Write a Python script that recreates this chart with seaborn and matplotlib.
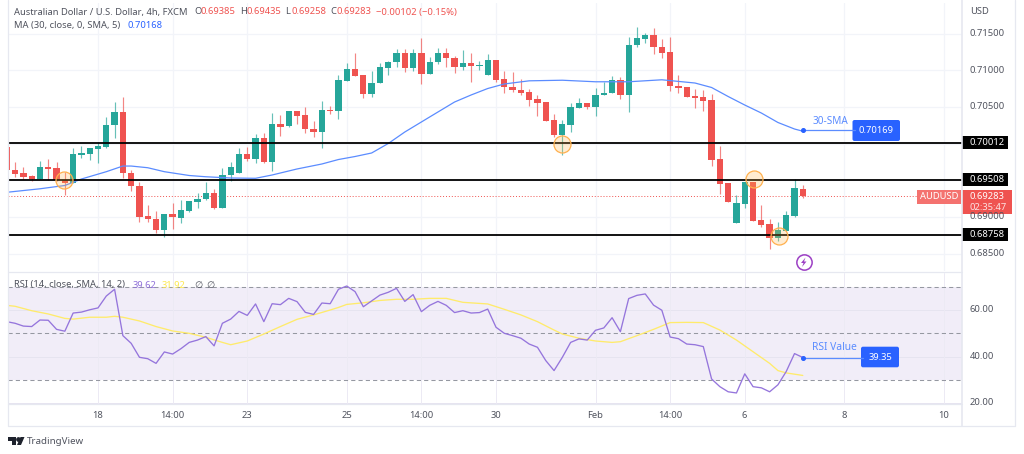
import matplotlib
matplotlib.use('Agg')
import matplotlib.pyplot as plt
from matplotlib.patches import Rectangle, FancyBboxPatch, Polygon
import seaborn as sns
import pandas as pd
import numpy as np

# AUD/USD 4h candles
opens = [.69952,.69639,.69598,.69557,.69520,.69676,.69666,.69502,.69466,.69843,.69861,.69929,.69957,.70252,.70430,.69598,.69421,.69012,.68975,.68825,
         .69039,.68988,.69084,.69207,.69243,.69321,.69121,.69571,.69602,.69857,.69789,.70075,.69752,.70266,.70239,.70447,.70385,.70194,.70157,.70461,
         .70447,.70857,.71016,.70930,.70675,.70829,.71034,.71107,.71238,.71034,.71238,.70944,.71107,.71238,.71170,.71043,.71098,.71057,.70934,.71135,
         .70876,.70775,.70734,.70702,.70603,.70562,.70321,.70116,.70252,.70488,.70548,.70502,.70662,.70685,.70866,.70657,.71343,.71425,.71480,.71320,
         .71244,.70784,.70767,.70648,.70634,.70593,.69785,.69458,.68916,.69175,.69479,.68957,.68903,.68707,.68811,.69016,.69385]
highs = [.69952,.69748,.69680,.69571,.69762,.69789,.69748,.69612,.69939,.69966,.69939,.70021,.70362,.70566,.70630,.69639,.69475,.69162,.69080,.69039,
         .69193,.69230,.69220,.69329,.69475,.69376,.69666,.69748,.69943,.69952,.70130,.70143,.70412,.70389,.70447,.70447,.70494,.70307,.70580,.70512,
         .70934,.71094,.71238,.70930,.70993,.71094,.71125,.71289,.71285,.71285,.71435,.71176,.71298,.71298,.71193,.71275,.71230,.71129,.71217,.71139,
         .70989,.70971,.70876,.70739,.70662,.70562,.70398,.70321,.70548,.70617,.70548,.70753,.70835,.70925,.70903,.71448,.71585,.71503,.71571,.71421,
         .71457,.70934,.70767,.70739,.70730,.70675,.69966,.69458,.69298,.69479,.69479,.69162,.68971,.68934,.69084,.69516,.69435]
lows = [.69639,.69543,.69516,.69489,.69516,.69502,.69489,.69298,.69462,.69802,.69775,.69734,.69943,.70079,.69534,.69357,.68934,.68934,.68780,.68725,
        .68838,.68916,.69070,.69125,.69230,.69107,.69121,.69493,.69602,.69762,.69734,.69734,.69629,.70107,.70229,.70266,.70147,.70093,.69943,.70398,
        .70334,.70857,.70925,.70625,.70638,.70829,.70934,.71047,.70971,.70993,.70807,.70944,.71080,.71039,.70957,.71002,.70835,.71002,.70934,.70835,
        .70693,.70707,.70662,.70516,.70379,.70311,.70093,.69843,.70161,.70488,.70475,.70379,.70662,.70685,.70607,.70426,.71312,.71375,.71217,.71162,
        .70716,.70693,.70638,.70488,.70447,.69697,.69308,.69198,.68916,.69121,.68948,.68866,.68557,.68675,.68811,.69002,.69258]
closes = [.69639,.69584,.69543,.69512,.69676,.69652,.69502,.69466,.69857,.69871,.69939,.69962,.70252,.70430,.69594,.69421,.69002,.68971,.68825,.69039,
          .68994,.69093,.69216,.69243,.69321,.69121,.69575,.69676,.69857,.69785,.70075,.69752,.70266,.70229,.70447,.70379,.70194,.70157,.70457,.70443,
          .70866,.71016,.70925,.70675,.70829,.71039,.71116,.71238,.71034,.71238,.70944,.71116,.71238,.71162,.71043,.71094,.71061,.71071,.71135,.70866,
          .70775,.70726,.70693,.70593,.70557,.70311,.70116,.70266,.70494,.70548,.70502,.70666,.70689,.70866,.70657,.71343,.71435,.71480,.71320,.71238,
          .70784,.70757,.70638,.70625,.70584,.69775,.69448,.69198,.69185,.69479,.68948,.68885,.68707,.68821,.69029,.69389,.69283]

# 30 period SMA, read at these candles
ma_index = [0,4,7,9,12,14,15,17,19,22,24,27,30,32,35,38,40,42,44,46,48,51,54,56,58,60,63,67,71,75,79,83,85,87,89,91,93,95,96]
ma_values = [.69335,.69383,.69428,.69516,.69616,.69693,.69693,.69670,.69616,.69564,.69547,.69530,.69526,.69571,.69653,.69721,.69782,.69823,.69871,
             .70000,.70157,.70362,.70566,.70662,.70750,.70812,.70855,.70863,.70842,.70842,.70869,.70825,.70764,.70641,.70525,.70416,.70287,.70198,.70168]

rsi = [55,54.3,53.1,52.9,55.7,55.6,51.7,50.9,58.7,59.1,60.1,60.9,66,68.9,49,45.7,39.7,39.1,37.1,42,
       41.1,43.4,46.1,47.1,48.6,44.6,54.3,56.1,59.4,57.7,62.6,55,62.7,62.3,65,63.6,59,58.1,63,62.7,
       68.9,70.3,67.9,61.4,63.9,66.4,67.6,69.3,63.7,66.6,59.3,62,63.7,62,58.9,59.7,58.7,58.9,60.4,52.6,
       50,49,47.9,45.4,44,38.3,34,39.7,46.1,47.6,47.1,51.3,52.3,56.7,50.7,64.9,66.3,66.9,62.1,59.9,
       48.4,47.7,45.4,45.1,44.3,30.4,27.1,24.9,24.4,32.6,27.1,26.6,24.9,27.9,33.6,41.3,39.62]

rsi_ma_index = [0,1,3,5,7,8,10,12,13,14,16,18,20,22,24,26,27,29,31,33,35,37,39,40,41,43,45,47,49,51,53,55,58,60,62,64,66,67,69,71,73,74,76,78,80,82,84,86,88,90,92,93,94,96]
rsi_ma = [62,61.6,59.7,58.3,56.4,56.1,56.9,56.9,57.3,56.9,55.3,52.9,51,50,48.3,46.1,45.1,46.7,49.7,52.9,56,57.9,60,61.1,62.4,63.1,64.1,64.6,64.6,65,65,
          63.3,62.6,60.3,57.9,55,51.4,49.7,47.9,46.7,46.1,46.4,49,51.7,54.6,54.7,54.6,51.4,47.1,42.1,37.1,34,33,31.92]

levels = [.70012,.69508,.68758]
level_labels = ['0.70012','0.69508','0.68758']
price_ticks = [.715,.71,.705,.70,.695,.69,.685]
price_labels = ['0.71500','0.71000','0.70500','0.70000','0.69500','0.69000','0.68500']
rsi_ticks = [60,40,20]
rsi_labels = ['60.00','40.00','20.00']
date_pos = [11,20,29,41,50,59,71,80,89,101,113]
date_labels = ['18','14:00','23','25','14:00','30','Feb','14:00','6','8','10']
# circled candles (index, price)
circle_x = [6.9,66.97,90.1,93.1]
circle_y = [.69500,.69993,.69512,.68743]

W, H = 1024, 454
UP, DOWN = '#26a69a', '#ef5350'
GREY = '#50535e'
BLUE = '#2962ff'
GRID = '#f2f4f9'

sns.set_theme(style='white')
plt.rcParams['font.family'] = ['Noto Sans', 'DejaVu Sans']

def px_axes(x0, y0, x1, y1):
    return fig.add_axes([x0/W, 1-y1/H, (x1-x0)/W, (y1-y0)/H])

df = pd.DataFrame({'i': np.arange(len(opens)), 'o': opens, 'h': highs, 'l': lows, 'c': closes, 'rsi': rsi})
df['up'] = df.c >= df.o
df['col'] = np.where(df.up, UP, DOWN)
ma = pd.DataFrame({'i': ma_index, 'v': ma_values})
rma = pd.DataFrame({'i': rsi_ma_index, 'v': rsi_ma})

fig = plt.figure(figsize=(W/100, H/100), dpi=100, facecolor='white')
xlim = (0.145, 115.2)

# price pane
ax = px_axes(8, 3, 962, 271)
ax.set_xlim(xlim)
ax.set_ylim(.68262, .71916)
for t in price_ticks:
    ax.axhline(t, color=GRID, lw=.9, zorder=0)
for t in date_pos:
    ax.axvline(t, color=GRID, lw=.9, zorder=0)
ax.vlines(df.i, df.l, df.h, colors=df.col, lw=.85, alpha=.7, zorder=2)
ax.bar(df.i, (df.c-df.o).abs(), bottom=df[['o', 'c']].min(axis=1), width=.76, color=df.col, zorder=3, lw=0)
ax.axhline(closes[-1], color=DOWN, lw=.7, ls=(0, (1, 2)), zorder=1.5)
sns.lineplot(data=ma, x='i', y='v', color='#5b8cff', lw=.9, ax=ax, zorder=4)
for lv in levels:
    ax.axhline(lv, color='black', lw=1.3, zorder=5)
ax.scatter(circle_x, circle_y, s=150, facecolor='#ffb74d40', edgecolor='#ffb04d', lw=.9, zorder=6)
ax.set_axis_off()

# RSI pane
ax2 = px_axes(8, 272.5, 962, 404)
ax2.set_xlim(xlim)
ax2.set_ylim(19.66, 76.1)
ax2.axhspan(30, 70, color='#7e57c2', alpha=.1, lw=0, zorder=0)
for t in rsi_ticks:
    ax2.axhline(t, color='#e6e4f0', lw=.7, zorder=.5)
for t in date_pos:
    ax2.axvline(t, color='#eceaf4', lw=.7, zorder=.5)
for t in [70, 50, 30]:
    ax2.axhline(t, color='#9598a1', lw=.75, ls=(0, (4, 3)), zorder=1)
sns.lineplot(data=rma, x='i', y='v', color='#ffeb6b', lw=.95, ax=ax2, zorder=2)
sns.lineplot(data=df, x='i', y='rsi', color='#9575dc', lw=.95, ax=ax2, zorder=3)
ax2.set_axis_off()

# overlay in picture pixels for labels and frames
ov = fig.add_axes([0, 0, 1, 1], zorder=10)
ov.set_xlim(0, W)
ov.set_ylim(H, 0)
ov.patch.set_alpha(0)
ov.set_axis_off()

def box(x0, y0, x1, y1, col, rounded=False, **kw):
    if rounded:
        ov.add_patch(FancyBboxPatch((x0+2, y0+2), x1-x0-4, y1-y0-4, boxstyle='round,pad=2', fc=col, ec='none', **kw))
    else:
        ov.add_patch(Rectangle((x0, y0), x1-x0, y1-y0, fc=col, ec='none', **kw))

def label(x, y, s, col=GREY, size=6.75, ha='left', **kw):
    ov.text(x, y, s, color=col, fontsize=size, ha=ha, va='center', **kw)

# date strip and frame
box(8, 404, 1015, 426, 'white')
ov.plot([8, 962], [404.3, 404.3], color='#e6e8f0', lw=.9)
ov.plot([8, 962], [272, 272], color='#e6e8f0', lw=.9)
ov.plot([7.5, 7.5, 1015, 1015], [0, 426, 426, 0], color='#e6e8f0', lw=.9)
ov.plot([962, 962], [0, 426], color='#e6e8f0', lw=1.2)
for p, s in zip(date_pos, date_labels):
    x = 6.8+8.29*p
    label(x, 415, s, ha='center', fontweight='bold' if s == 'Feb' else 'normal')

# price and RSI scale
label(970, 11, 'USD')
for t, s in zip(price_ticks, price_labels):
    if s not in ('0.70000', '0.69500'):
        label(970, 33.5+(.715-t)*7333, s)
for y, s in zip([310, 356.7, 402.5], rsi_labels):
    label(970, y, s)
box(962.6, 404.6, 1014.5, 425.5, 'white')
for y, s in zip([142.6, 179.3, 234.5], level_labels):
    box(962, y-6.5, 1008, y+6.5, 'black')
    label(970, y, s, col='white')

# last price
box(917, 190, 961, 203.5, '#f4726f')
label(939, 196.8, 'AUDUSD', col='white', ha='center')
box(962, 190, 1012, 214, DOWN)
label(970, 196.5, '0.69283', col='white')
label(970, 208, '02:35:47', col='#fde3e2')

# header
label(14, 12, 'Australian Dollar / U.S. Dollar, 4h, FXCM')
for x, k, v in [(194, 'O', '0.69385'), (240, 'H', '0.69435'), (285.5, 'L', '0.69258'), (330, 'C', '0.69283')]:
    label(x, 12, k)
    label(x+6.2, 12, v, col=DOWN)
label(375.5, 12, '\u22120.00102 (\u22120.15%)', col=DOWN)
label(14, 25.5, 'MA (30, close, 0, SMA, 5)')
label(128, 25.5, '0.70168', col=BLUE)
label(14, 285, 'RSI (14, close, SMA, 14, 2)')
label(133, 285, '39.62', col='#8e6fd8')
label(162, 285, '31.92', col='#fde84e')
label(194, 285, '\u2205')
label(206, 285, '\u2205')

# callouts
ov.plot([803, 855], [130.3, 130.3], color='#5b8cff', lw=.9)
ov.plot([803], [130.3], 'o', color=BLUE, ms=2.6)
label(813, 121, '30-SMA', col='#5b8cff', size=7.2)
box(852.5, 120, 900, 141, BLUE, rounded=True)
label(876, 130.5, '0.70169', col='white', ha='center', fontweight='bold')
ov.plot([803, 863], [357.5, 357.5], color='#5b8cff', lw=.9)
ov.plot([803], [357.5], 'o', color=BLUE, ms=2.6)
label(812, 348, 'RSI Value', col='#5b8cff', size=7.4)
box(861, 346.7, 899, 367.3, BLUE, rounded=True)
label(880, 357, '39.35', col='white', ha='center', fontweight='bold')

# lightning badge
ov.plot([803.7], [262.3], 'o', mfc='white', mec='#9c3fc4', mew=1.1, ms=11)
ov.add_patch(Polygon([[805.5, 257.5], [801, 263], [803.5, 263], [802, 267], [806.5, 261.5], [804, 261.5]], fc='#9c3fc4', ec='none', zorder=5))

# TradingView mark
ov.add_patch(Polygon([[8, 437], [16, 437], [16, 445], [12, 445], [12, 440.5], [8, 440.5]], fc='#1e222d', ec='none'))
ov.plot([17.6], [438.6], 'o', color='#1e222d', ms=2.4)
ov.add_patch(Polygon([[20.5, 437], [24.5, 437], [21, 445], [17, 445]], fc='#1e222d', ec='none'))
label(27, 441, 'TradingView', size=7)

fig.savefig('out.png', dpi=100)
